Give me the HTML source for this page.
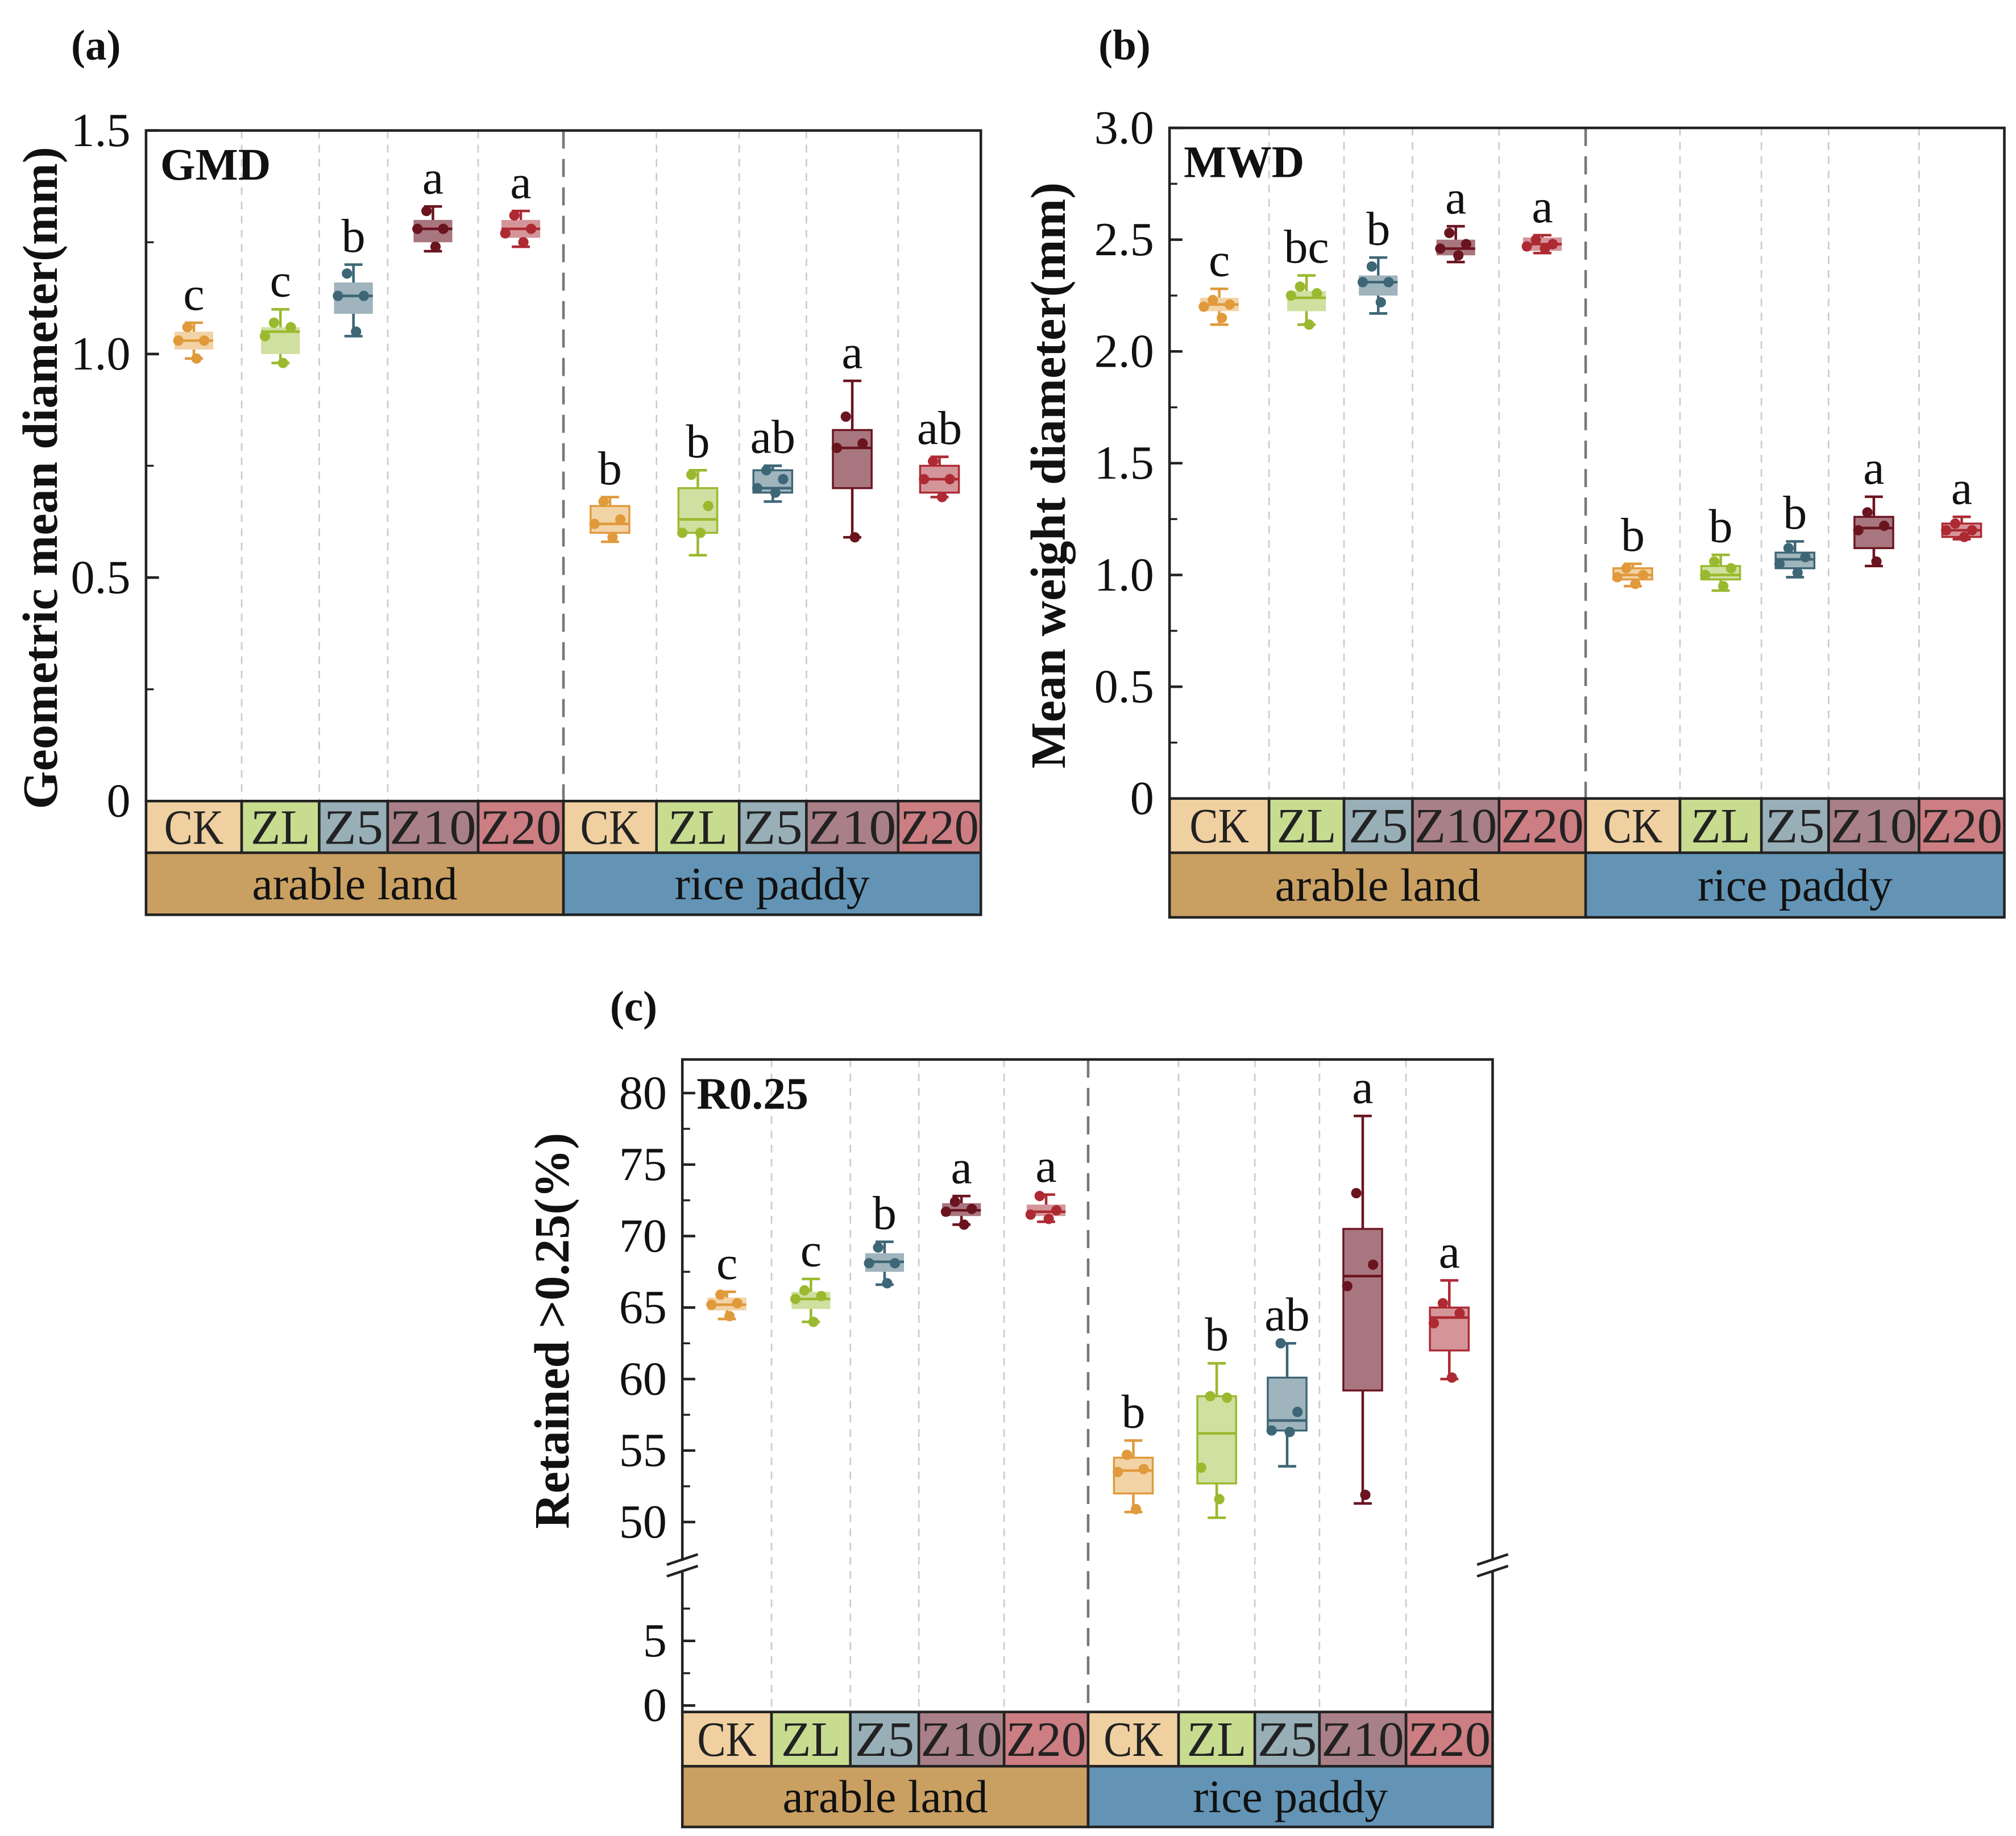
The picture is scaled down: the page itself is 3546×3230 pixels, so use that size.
<!DOCTYPE html>
<html><head><meta charset="utf-8"><style>
html,body{margin:0;padding:0;background:#fff;}
svg{display:block;}
svg text{font-family:"Liberation Serif","Times New Roman",serif;}
</style></head><body>
<svg id="fig" width="3546" height="3230" viewBox="0 0 1560 1421" xmlns="http://www.w3.org/2000/svg">
<rect width="1560" height="1421" fill="#fff"/>
</svg>
<script>
const categories = ["CK","ZL","Z5","Z10","Z20","CK","ZL","Z5","Z10","Z20"];
const groups = ["arable land","rice paddy"];
// [q1, median, q3, whiskerLow, whiskerHigh]
const gmdBoxes = [[1.01,1.03,1.05,0.99,1.07],[1.00,1.05,1.06,0.98,1.10],[1.09,1.13,1.16,1.04,1.20],[1.25,1.28,1.30,1.23,1.33],[1.26,1.28,1.30,1.24,1.32],
 [0.60,0.62,0.66,0.58,0.68],[0.60,0.63,0.70,0.55,0.74],[0.69,0.70,0.74,0.67,0.75],[0.70,0.79,0.83,0.59,0.94],[0.69,0.72,0.75,0.68,0.77]];
const gmdPoints = [[1.06,1.03,1.03,0.99],[1.07,1.06,1.04,0.98],[1.18,1.13,1.13,1.05],[1.32,1.28,1.28,1.24],[1.31,1.28,1.27,1.25],
 [0.67,0.63,0.62,0.59],[0.73,0.66,0.60,0.60],[0.74,0.72,0.70,0.69],[0.86,0.80,0.79,0.59],[0.76,0.72,0.72,0.68]];
const gmdLetters = ["c","c","b","a","a","b","b","ab","a","ab"];
const gmdTicks = [0,0.5,1.0,1.5];
const gmdTickLabels = ["0","0.5","1.0","1.5"];

const mwdBoxes = [[2.18,2.21,2.24,2.12,2.28],[2.18,2.24,2.27,2.12,2.34],[2.25,2.31,2.34,2.17,2.42],[2.43,2.46,2.50,2.40,2.56],[2.45,2.48,2.51,2.44,2.52],
 [0.98,1.00,1.03,0.95,1.05],[0.98,1.00,1.04,0.93,1.09],[1.03,1.07,1.10,0.99,1.15],[1.12,1.21,1.26,1.04,1.35],[1.17,1.20,1.23,1.16,1.26]];
const mwdPoints = [[2.23,2.21,2.20,2.15],[2.29,2.26,2.25,2.12],[2.38,2.31,2.31,2.22],[2.53,2.48,2.46,2.43],[2.50,2.48,2.47,2.46],
 [1.03,1.00,0.99,0.96],[1.06,1.03,1.00,0.95],[1.12,1.08,1.05,1.01],[1.28,1.22,1.20,1.06],[1.23,1.20,1.20,1.17]];
const mwdLetters = ["c","bc","b","a","a","b","b","b","a","a"];
const mwdTicks = [0,0.5,1.0,1.5,2.0,2.5,3.0];
const mwdTickLabels = ["0","0.5","1.0","1.5","2.0","2.5","3.0"];

const rBoxes = [[64.8,65.2,65.7,64.2,66.1],[64.9,65.6,66.1,64.0,67.0],[67.5,68.2,68.8,66.6,69.6],[71.4,71.8,72.3,70.8,72.8],[71.4,71.7,72.2,71.0,72.9],
 [52.0,53.6,54.5,50.7,55.7],[52.7,56.2,58.8,50.3,61.1],[56.4,57.1,60.1,53.9,62.5],[59.2,67.2,70.5,51.3,78.4],[62.0,64.3,65.0,60.0,66.9]];
const rPoints = [[65.9,65.3,65.2,64.4],[66.2,65.8,65.6,64.0],[69.2,68.1,68.1,66.7],[72.4,71.9,71.7,70.8],[72.8,71.8,71.5,71.2],
 [54.7,53.7,53.5,50.9],[58.8,58.7,53.8,51.6],[62.5,57.7,56.4,56.3],[73.0,68.0,66.5,51.9],[65.3,64.6,63.9,60.1]];
const rLetters = ["c","c","b","a","a","b","b","ab","a","a"];
const rTicksUpper = [50,55,60,65,70,75,80];
const rTickLabelsUpper = ["50","55","60","65","70","75","80"];
const rTicksLower = [0,5];
const rTickLabelsLower = ["0","5"];

const strokeCol = ["#e09a3c","#9ab92e","#3d6676","#6a1420","#ad2a33"];
const fillCol = ["#f2d3a6","#cfe0a0","#9fb4bc","#a8767e","#d4959a"];
const cellCol = ["#f0d0a0","#c8dc90","#98afb8","#a98088","#cc7e82"];
const groupCol = ["#c9a062","#6394b5"];

const svg = document.getElementById('fig');
const NS = "http://www.w3.org/2000/svg";
function mk(tag, attrs, parent){ const e=document.createElementNS(NS,tag); for(const k in attrs) e.setAttribute(k,attrs[k]); (parent||svg).appendChild(e); return e; }
function txt(s, attrs, parent){ const e=mk('text',attrs,parent); e.textContent=s; return e; }

function panel(cfg){
  const g = mk('g',{});
  
  
  const {x0,x1,yTop,yZero,bounds,yScale} = cfg;
  for(let i=1;i<10;i++){
    const l = mk('line',{x1:bounds[i],x2:bounds[i],y1:yTop,y2:yZero,stroke:i===5?'#777':'#ccc','stroke-width':i===5?2:1.2,'stroke-dasharray':i===5?'14,8':'6,5'},g);
    
    
  }
  const fr = mk('rect',{x:x0,y:yTop,width:x1-x0,height:yZero-yTop,fill:'none',stroke:'#222','stroke-width':2},g);
  
  
  cfg.ticks.forEach((t,i)=>{
    const y = cfg.yScaleTick(t, i);
    mk('line',{x1:x0,x2:x0+10,y1:y.y,y2:y.y,stroke:'#222','stroke-width':2},g);
    const tl = txt(y.label,{x:x0-12,y:y.y+12,'text-anchor':'end','font-size':37,fill:'#111'},g);
    
    
  });
  (cfg.minor||[]).forEach(v=>{ const y=cfg.yMinor(v); mk('line',{x1:x0,x2:x0+6,y1:y,y2:y,stroke:'#222','stroke-width':1.5},g); });
  for(let i=0;i<10;i++){
    const c = i%5, cx=(bounds[i]+bounds[i+1])/2, b=cfg.boxes[i], w=30, cap=14;
    const bg = mk('g',{},g);
    
    
    const yq1=yScale(b[0]), ym=yScale(b[1]), yq3=yScale(b[2]), ylo=yScale(b[3]), yhi=yScale(b[4]);
    mk('line',{x1:cx,x2:cx,y1:yhi,y2:ylo,stroke:strokeCol[c],'stroke-width':2},bg);
    mk('line',{x1:cx-cap/2,x2:cx+cap/2,y1:yhi,y2:yhi,stroke:strokeCol[c],'stroke-width':2},bg);
    mk('line',{x1:cx-cap/2,x2:cx+cap/2,y1:ylo,y2:ylo,stroke:strokeCol[c],'stroke-width':2},bg);
    mk('rect',{x:cx-w/2,y:yq3,width:w,height:Math.max(1,yq1-yq3),fill:fillCol[c],stroke:i>=5?strokeCol[c]:'none','stroke-width':1.5},bg);
    mk('line',{x1:cx-w/2,x2:cx+w/2,y1:ym,y2:ym,stroke:strokeCol[c],'stroke-width':2},bg);
    const offs=[-5,8,-12,2];
    cfg.points[i].forEach((p,k)=>{
      const d = mk('circle',{cx:cx+offs[k],cy:yScale(p),r:4,fill:strokeCol[c]},bg);
      
      
    });
    const lt = txt(cfg.letters[i],{x:cx,y:yhi-10,'text-anchor':'middle','font-size':37,fill:'#111'},g);
    
    
  }
  const rowY=yZero, rowH=cfg.rowH, gH=cfg.gH;
  for(let i=0;i<10;i++){
    const r = mk('rect',{x:bounds[i],y:rowY,width:bounds[i+1]-bounds[i],height:rowH,fill:cellCol[i%5],stroke:'#222','stroke-width':2},g);
    
    
    const t = txt(categories[i],{x:(bounds[i]+bounds[i+1])/2,y:rowY+rowH/2+13,'text-anchor':'middle','font-size':38,fill:'#222',textLength:Math.min(bounds[i+1]-bounds[i]-3,categories[i].length*23),lengthAdjust:'spacingAndGlyphs'},g);
    
    
  }
  for(let j=0;j<2;j++){
    const a=bounds[j*5], bb=bounds[j*5+5];
    const r = mk('rect',{x:a,y:rowY+rowH,width:bb-a,height:gH,fill:groupCol[j],stroke:'#222','stroke-width':2},g);
    
    
    const t = txt(groups[j],{x:(a+bb)/2,y:rowY+rowH+gH/2+12,'text-anchor':'middle','font-size':36,fill:'#111'},g);
    
    
  }
  const it = txt(cfg.inner,{x:x0+11,y:yTop+38,'font-size':35,'font-weight':'bold',fill:'#111'},g);
  
  
  const pl = txt(cfg.panelLabel,{x:cfg.plx,y:cfg.ply,'font-size':33,'font-weight':'bold',fill:'#111'},g);
  
  
  const yt = txt(cfg.ytitle,{x:0,y:0,'text-anchor':'middle','font-size':38,'font-weight':'bold',fill:'#111',transform:`translate(${cfg.ytx},${cfg.yty}) rotate(-90)`},g);
  
  
}

{
  const yZ=620, yT=101, s=(v)=>yZ-v*(yZ-yT)/1.5;
  panel({name:'panel-a-gmd',x0:113,x1:759,yTop:yT,yZero:yZ,bounds:[113,187,247,300,370,436,508,572,624,695,759],
    yScale:s,ticks:gmdTicks,yScaleTick:(t,i)=>({y:s(t),label:gmdTickLabels[i]}),minor:[0.25,0.75,1.25],yMinor:s,
    boxes:gmdBoxes,points:gmdPoints,letters:gmdLetters,rowH:40,gH:48,inner:'GMD',panelLabel:'(a)',plx:55,ply:46,
    ytitle:'Geometric mean diameter(mm)',ytx:44,yty:370});
}
{
  const yZ=618, yT=99, s=(v)=>yZ-v*(yZ-yT)/3.0;
  panel({name:'panel-b-mwd',x0:905,x1:1551,yTop:yT,yZero:yZ,bounds:[905,982,1040,1093,1160,1227,1300,1363,1415,1485,1551],
    yScale:s,ticks:mwdTicks,yScaleTick:(t,i)=>({y:s(t),label:mwdTickLabels[i]}),minor:[0.25,0.75,1.25,1.75,2.25,2.75],yMinor:s,
    boxes:mwdBoxes,points:mwdPoints,letters:mwdLetters,rowH:42,gH:50,inner:'MWD',panelLabel:'(b)',plx:850,ply:46,
    ytitle:'Mean weight diameter(mm)',ytx:824,yty:368});
}
{
  const yZ=1325, yT=820;
  const up=(v)=>1178-(v-50)*(1178-846)/30;
  const lo=(v)=>1320-v*(1320-1270)/5;
  const s=(v)=>v>=40?up(v):lo(v);
  panel({name:'panel-c-r025',x0:528,x1:1155,yTop:yT,yZero:yZ,bounds:[528,597,658,711,777,842,912,971,1021,1088,1155],
    yScale:s,ticks:[...rTicksLower,...rTicksUpper],
    yScaleTick:(t,i)=>({y:s(t),label:i<2?rTickLabelsLower[i]:rTickLabelsUpper[i-2]}),
    minor:[2.5,7.5,52.5,57.5,62.5,67.5,72.5,77.5],yMinor:s,
    boxes:rBoxes,points:rPoints,letters:rLetters,rowH:42,gH:47,inner:'R0.25',panelLabel:'(c)',plx:472,ply:790,
    ytitle:'Retained >0.25(%)',ytx:440,yty:1030});
  [[528,1212],[1155,1212]].forEach(([bx,by])=>{
    const w = mk('rect',{x:bx-12,y:by-4,width:24,height:8,fill:'#fff'});
    
    
    mk('line',{x1:bx-12,y1:by-1,x2:bx+12,y2:by-9,stroke:'#222','stroke-width':2});
    mk('line',{x1:bx-12,y1:by+8,x2:bx+12,y2:by,stroke:'#222','stroke-width':2});
  });
}
</script>
</body></html>
